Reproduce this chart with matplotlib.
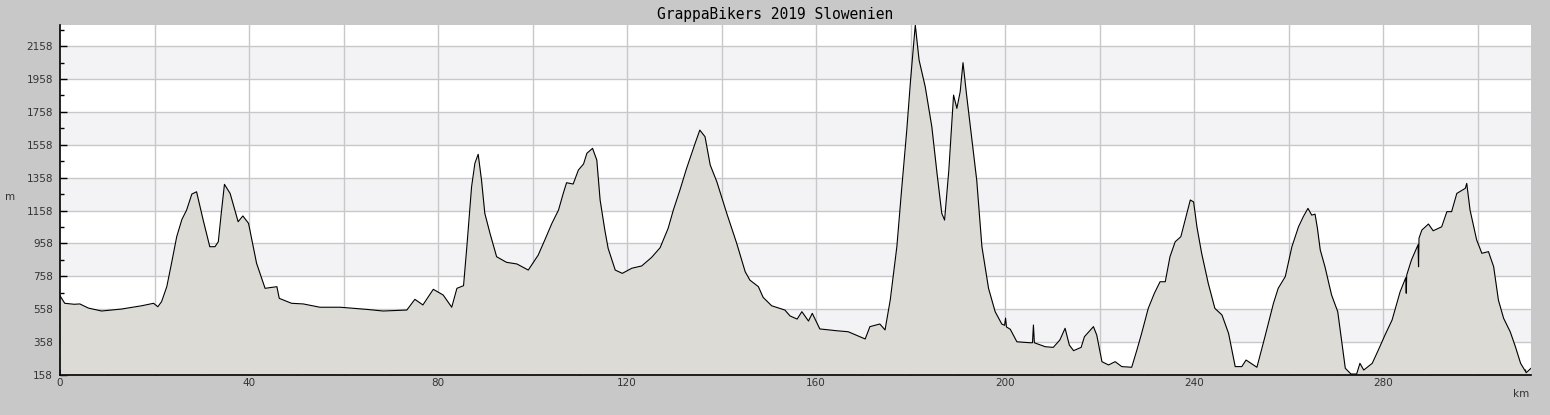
import matplotlib
matplotlib.use("Agg")
import matplotlib.pyplot as plt
from matplotlib.ticker import MultipleLocator, FixedLocator, FuncFormatter

# Elevation profile (distance in km, altitude in m)
km = [0.0, 1.0, 3.0, 4.2, 6.0, 8.8, 13.0, 17.3, 19.8, 20.7, 21.5, 22.6, 23.6, 24.7,
      25.8, 26.8, 27.9, 28.9, 30.3, 31.7, 32.8, 33.5, 34.2, 34.8, 36.0, 37.7, 38.7,
      39.9, 41.6, 43.4, 45.9, 46.4, 49.0, 51.5, 55.0, 59.3, 64.9, 68.4, 73.4, 75.1,
      76.8, 79.0, 81.1, 82.9, 84.0, 85.4, 86.1, 87.1, 87.8, 88.5, 89.2, 89.9, 91.0,
      92.4, 94.5, 96.7, 99.1, 101.2, 102.6, 104.1, 105.5, 106.5, 107.2, 108.6, 109.7,
      110.8, 111.5, 112.7, 113.6, 114.3, 115.3, 116.0, 117.5, 119.0, 121.0, 123.1,
      125.2, 127.0, 128.7, 129.8, 131.2, 132.6, 134.4, 135.4, 136.5, 137.6, 139.0,
      141.1, 143.2, 145.0, 146.0, 147.8, 148.8, 150.6, 153.4, 154.5, 156.0, 157.0,
      158.4, 159.2, 160.8, 164.4, 166.8, 170.4, 171.4, 173.5, 174.6, 175.7, 177.1,
      178.1, 179.2, 180.0, 181.0, 181.8, 183.1, 184.5, 185.6, 186.6, 187.2, 188.1,
      189.1, 189.8, 190.5, 191.1, 191.9, 192.9, 194.0, 195.1, 196.5, 197.9, 199.3,
      199.9, 200.1, 200.3, 201.1, 202.5, 205.3, 205.8, 206.0, 206.2, 208.5, 210.2,
      211.6, 212.7, 213.6, 214.5, 216.1, 216.8, 218.7, 219.4, 220.5, 221.9, 223.3,
      224.7, 226.8, 227.9, 228.9, 230.3, 231.6, 232.8, 233.9, 234.9, 236.0, 237.2,
      238.1, 239.2, 239.9, 240.6, 241.6, 243.0, 244.4, 245.9, 247.3, 248.7, 250.1,
      251.0, 253.3, 255.0, 256.8, 257.8, 259.3, 260.7, 262.1, 263.1, 264.1, 264.9,
      265.6, 266.1, 266.7, 267.7, 269.1, 270.4, 271.3, 272.0, 273.2, 274.4, 275.1,
      275.9, 277.7, 279.0, 280.4, 281.9, 283.6, 284.8, 284.9, 285.0, 286.0, 287.4,
      287.5, 287.6, 288.2, 289.6, 290.6, 292.4, 293.5, 294.5, 295.6, 297.4, 297.7,
      298.4, 299.8, 300.9, 302.3, 303.4, 304.4, 305.5, 306.9, 308.0, 309.1, 310.3,
      311.3]
alt = [640, 594, 588, 590, 565, 547, 559, 579, 594, 573, 604, 695, 837, 999,
       1104, 1161, 1258, 1272, 1100, 938, 938, 968, 1161, 1317, 1262, 1090, 1125,
       1080, 837, 685, 695, 624, 594, 590, 570, 570, 557, 547, 553, 618,
       584, 679, 644, 570, 685, 701, 938, 1302, 1445, 1500, 1343, 1141, 1019,
       877, 843, 833, 796, 887, 979, 1080, 1161, 1262, 1327, 1319, 1404,
       1441, 1506, 1536, 1465, 1222, 1039, 928, 796, 776, 807, 821,
       873, 932, 1050, 1161, 1283, 1414, 1566, 1647, 1607, 1435, 1333,
       1141, 959, 786, 735, 695, 630, 579, 553, 517, 498, 543,
       486, 533, 438, 427, 421, 377, 452, 468, 432, 614, 938,
       1283, 1647, 1951, 2286, 2073, 1911, 1667, 1384, 1141, 1100, 1404,
       1860, 1779, 1880, 2057, 1850, 1607, 1343, 938, 685, 543, 468,
       460, 504, 450, 436, 360, 354, 354, 462, 354, 330, 326,
       371, 442, 340, 306, 326, 391, 452, 401, 239, 219, 239,
       209, 205, 310, 411, 563, 655, 725, 725, 877, 968, 999,
       1100, 1222, 1210, 1059, 898, 715, 563, 523, 411, 209, 209,
       249, 205, 391, 594, 685, 756, 938, 1059, 1120, 1171, 1130,
       1136, 1050, 918, 816, 644, 543, 351, 199, 164, 164, 229,
       188, 229, 310, 401, 492, 664, 750, 655, 766, 857, 950,
       816, 990, 1039, 1076, 1035, 1059, 1151, 1151, 1262, 1293, 1323,
       1161, 979, 898, 908, 816, 614, 503, 421, 330, 229, 172,
       199]

title = "GrappaBikers 2019 Slowenien"
y_ticks = [158, 358, 558, 758, 958, 1158, 1358, 1558, 1758, 1958, 2158]
x_labels = [0, 40, 80, 120, 160, 200, 240, 280]
x_max = 311.3
y_min, y_max = 158, 2286

bg = "#c8c8c8"
fig = plt.figure(figsize=(15.5, 4.15), dpi=100, facecolor=bg)
ax = fig.add_axes([60 / 1550, 1 - 375 / 415, (1531 - 60) / 1550, 350 / 415])
ax.set_facecolor("white")

# alternating bands between the horizontal grid lines
for i in range(len(y_ticks) - 1):
    if i % 2 == 1:
        ax.axhspan(y_ticks[i], y_ticks[i + 1], color="#f3f2f5", lw=0, zorder=0)

for y in y_ticks[1:]:
    ax.axhline(y, color="#c8c8c8", lw=1.0, zorder=1)
for x in range(20, 311, 20):
    ax.axvline(x, color="#c8c8c8", lw=1.0, zorder=1)

ax.fill_between(km, alt, y_min, color="#dcdbd6", lw=0, zorder=2)
ax.plot(km, alt, color="black", lw=0.8, zorder=3)

ax.set_xlim(0, x_max)
ax.set_ylim(y_min, y_max)

ax.yaxis.set_major_locator(FixedLocator(y_ticks))
ax.yaxis.set_minor_locator(FixedLocator([y + 100 for y in y_ticks]))
ax.xaxis.set_major_locator(MultipleLocator(10))
ax.xaxis.set_major_formatter(FuncFormatter(
    lambda v, p: str(int(round(v))) if int(round(v)) in x_labels else ""))

ax.tick_params(axis="y", which="major", direction="in", length=5, width=1,
               labelsize=7.5, labelcolor="#333333", pad=5)
ax.tick_params(axis="y", which="minor", direction="in", length=3, width=1)
ax.tick_params(axis="x", which="major", direction="in", length=4, width=1,
               labelsize=7.5, labelcolor="#333333", pad=2)

for side in ["top", "right"]:
    ax.spines[side].set_visible(False)
for side in ["left", "bottom"]:
    ax.spines[side].set_linewidth(1.2)
    ax.spines[side].set_zorder(5)

fig.text(0.5, 1 - 14 / 415, title, ha="center", va="center",
         family="DejaVu Sans Mono", fontsize=10.5, color="black")
fig.text(10 / 1550, 1 - 197 / 415, "m", ha="center", va="center",
         fontsize=7.5, color="#333333")
fig.text(1521 / 1550, 1 - 394 / 415, "km", ha="center", va="center",
         fontsize=7.5, color="#333333")

fig.savefig("out.png", dpi=100, facecolor=bg)
